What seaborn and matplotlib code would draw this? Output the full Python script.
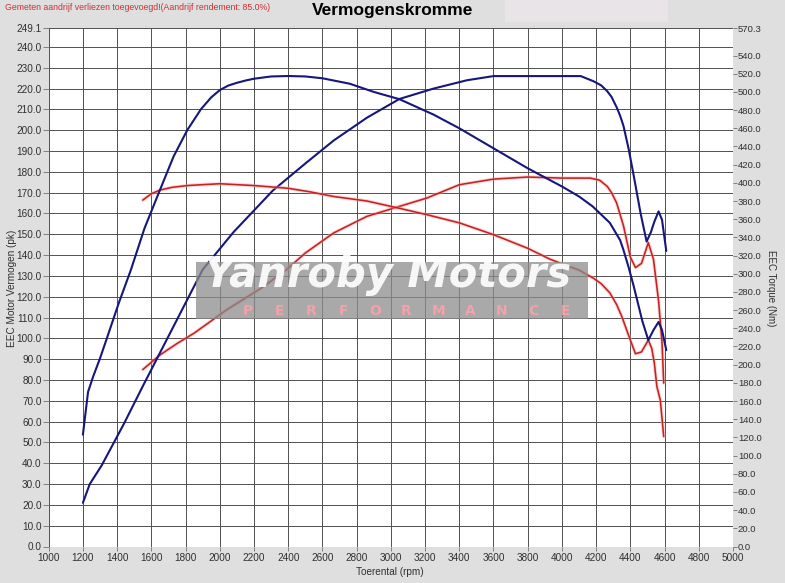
import numpy as np
import pandas as pd
import matplotlib
matplotlib.use("Agg")
import matplotlib.pyplot as plt
from matplotlib.patches import Rectangle
import seaborn as sns

# tuned car (blue) - torque in Nm, power in pk
tuned_torque_rpm = [1200, 1230, 1260, 1300, 1340, 1410, 1480, 1560, 1650, 1730, 1810, 1890, 1950, 2000,
                    2050, 2100, 2150, 2200, 2300, 2400, 2500, 2600, 2760, 2900, 3050, 3250, 3400, 3600,
                    3800, 3900, 4000, 4100, 4180, 4280, 4340, 4360, 4390, 4420, 4470, 4505, 4535, 4565,
                    4585, 4610]
tuned_torque_nm = [123, 170, 187, 207, 229, 268, 304, 350, 392, 429, 458, 481, 494, 502,
                   507, 510, 512.5, 514.5, 517, 517.5, 517, 515, 509, 500, 492, 475, 460, 438,
                   416, 406, 396, 385, 374, 356, 337, 326, 307, 286, 248, 227, 238, 247,
                   238, 216]

tuned_power_rpm = [1200, 1240, 1310, 1440, 1550, 1650, 1750, 1900, 2080, 2310, 2500, 2665, 2860, 3050,
                   3250, 3445, 3600, 3800, 4000, 4110, 4185, 4230, 4265, 4290, 4320, 4340, 4360, 4390,
                   4420, 4460, 4495, 4520, 4540, 4565, 4585, 4610]
tuned_power_pk = [21, 30, 39, 59, 77, 93, 109, 133, 151, 171, 184, 195, 206, 215,
                  220, 224, 226, 226, 226, 226, 223.5, 221.5, 218.7, 216, 211, 207, 202, 191,
                  178, 160, 146.5, 151, 156, 161, 157, 142]

# stock car (red)
stock_torque_rpm = [1550, 1600, 1650, 1720, 1810, 1900, 2000, 2200, 2400, 2530, 2665, 2860, 3050, 3210,
                    3400, 3600, 3800, 3930, 4000, 4100, 4185, 4230, 4280, 4320, 4350, 4400, 4430, 4465,
                    4505, 4525, 4540, 4555, 4575, 4595]
stock_torque_nm = [381, 388, 392, 395, 397, 398, 399, 397, 394, 390, 385, 380, 372, 365,
                   356, 343, 328, 316, 311, 304, 295, 289, 279, 266, 253, 227, 212, 214,
                   227, 218, 202, 176, 161, 121]

stock_power_rpm = [1550, 1650, 1750, 1850, 2040, 2240, 2390, 2500, 2665, 2860, 3050, 3210, 3400, 3600,
                   3800, 4000, 4165, 4220, 4265, 4290, 4320, 4360, 4400, 4430, 4465, 4505, 4535, 4565,
                   4585, 4595]
stock_power_pk = [85, 92, 97.5, 102.5, 113.7, 124, 133, 141, 150.6, 158.6, 163.4, 167.4, 173.8, 176.5,
                  177.5, 177, 177, 176, 173, 170, 165, 154, 139, 134, 136, 146, 138, 118,
                  98, 78.5]

rpm_ticks = list(range(1000, 5001, 200))
pk_ticks = list(range(0, 241, 10)) + [249.1]
nm_ticks = list(range(0, 541, 20)) + [570.3]

title = "Vermogenskromme"
note = "Gemeten aandrijf verliezen toegevoegd!(Aandrijf rendement: 85.0%)"

BLUE = "#16167c"
RED = "#c82020"
GLOW = "#f6a8a8"

sns.set_style("white")
plt.rcParams["font.family"] = ["Liberation Sans", "DejaVu Sans"]

fig = plt.figure(figsize=(7.85, 5.83), dpi=100, facecolor="#dfdfdf")
ax = fig.add_axes([48.7 / 785, 1 - 546.5 / 583, (733 - 48.7) / 785, (546.5 - 28) / 583])
ax.set_facecolor("white")
ax2 = ax.twinx()

def curve(axis, rpm, vals, color, lw, glow=None):
    df = pd.DataFrame({"rpm": rpm, "v": vals})
    if glow:
        sns.lineplot(data=df, x="rpm", y="v", ax=axis, color=glow, lw=2.6, alpha=0.45,
                     sort=False, estimator=None)
    sns.lineplot(data=df, x="rpm", y="v", ax=axis, color=color, lw=lw,
                 sort=False, estimator=None)

curve(ax, stock_power_rpm, stock_power_pk, RED, 1.15, GLOW)
curve(ax, tuned_power_rpm, tuned_power_pk, BLUE, 1.5)
curve(ax2, stock_torque_rpm, stock_torque_nm, RED, 1.15, GLOW)
curve(ax2, tuned_torque_rpm, tuned_torque_nm, BLUE, 1.5)

ax.set_xlim(1000, 5000)
ax.set_ylim(0, 249.1)
ax2.set_ylim(0, 570.3)

ax.set_xticks(rpm_ticks)
ax.set_xticklabels([str(t) for t in rpm_ticks])
ax.set_yticks(pk_ticks)
ax.set_yticklabels(["%.1f" % t for t in pk_ticks])
ax2.set_yticks(nm_ticks)
ax2.set_yticklabels(["%.1f" % t for t in nm_ticks])

ax.grid(True, color="#505050", lw=0.7)
ax.set_axisbelow(True)
for a in (ax, ax2):
    for s in a.spines.values():
        s.set_visible(False)
    a.set_xlabel("")
    a.set_ylabel("")

ax.tick_params(axis="y", direction="out", length=4, width=0.6, color="#707070",
               labelsize=7.2, labelcolor="#303030", pad=1, left=True)
ax.tick_params(axis="x", direction="out", length=3, width=0.6, color="#707070",
               labelsize=7.2, labelcolor="#303030", pad=2, bottom=True)
ax2.tick_params(axis="y", direction="out", length=3, width=0.6, color="#707070",
                labelsize=6.8, labelcolor="#303030", pad=0.5, right=True)

fig.text(12 / 785, 1 - 288 / 583, "EEC Motor Vermogen (pk)", rotation=90,
         ha="center", va="center", fontsize=7.2, color="#303030")
fig.text(771 / 785, 1 - 288 / 583, "EEC Torque (Nm)", rotation=270,
         ha="center", va="center", fontsize=7, color="#303030")
fig.text(390 / 785, 1 - 572 / 583, "Toerental (rpm)", ha="center", va="center",
         fontsize=7.2, color="#303030")

fig.text(393 / 785, 1 - 11 / 583, title, ha="center", va="center",
         fontsize=12.5, fontweight="bold", color="black")
fig.text(5 / 785, 1 - 7 / 583, note, ha="left", va="center", fontsize=6.3, color="#d03030")

# empty legend box top right
fig.patches.append(Rectangle((505 / 785, 1 - 22 / 583), 163 / 785, 22 / 583,
                             transform=fig.transFigure, facecolor="#e8e4e8",
                             edgecolor="none", zorder=0.5))

# watermark
fig.patches.append(Rectangle((196 / 785, 1 - 319 / 583), 392 / 785, 57 / 583,
                             transform=fig.transFigure, facecolor="#8c8c8c",
                             edgecolor="none", alpha=0.75, zorder=5))
fig.text(388 / 785, 1 - 275 / 583, "Yanroby Motors", ha="center", va="center",
         fontsize=30, fontweight="bold", fontstyle="italic", color="white",
         family="DejaVu Sans", alpha=0.92, zorder=6)
for i, ch in enumerate("PERFORMANCE"):
    fig.text((248 + i * 31.7) / 785, 1 - 311 / 583, ch, ha="center", va="center",
             fontsize=10, fontweight="bold", color="#f2a2a8", family="DejaVu Sans", zorder=6)

fig.savefig("out.png", dpi=100, facecolor=fig.get_facecolor())
